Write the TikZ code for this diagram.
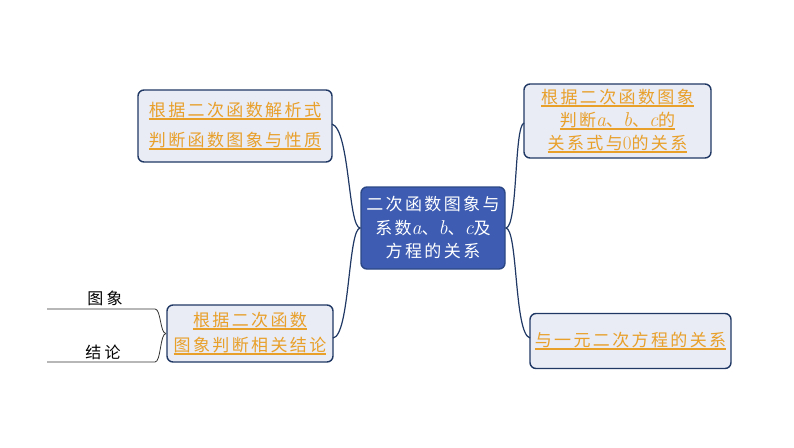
\documentclass[tikz,border=0pt]{standalone}
\usepackage{fontspec}
\newfontfamily\cjk[LetterSpace=14]{Noto Sans CJK SC}
\newfontfamily\cjkleaf[LetterSpace=20]{Noto Sans CJK SC}
\definecolor{boxfill}{HTML}{E9EBF5}
\definecolor{boxline}{HTML}{1F3864}
\definecolor{orangetxt}{HTML}{E8A02A}
\definecolor{centerfill}{HTML}{3E5DB2}
\definecolor{centerline}{HTML}{2C4785}
\newcommand\myul[1]{\setbox0\hbox{#1}\rlap{\rule[-3.5pt]{\wd0}{1.6pt}}\box0}
\newcommand\lat[1]{{\rmfamily\itshape\fontsize{20}{20}\selectfont #1}}
\newcommand\num[1]{{\rmfamily\upshape\fontsize{19}{19}\selectfont #1}}
\tikzset{
  topicbox/.style={draw=boxline, line width=1.4pt, fill=boxfill, rounded corners=6pt,
    align=center, inner sep=0pt, text=orangetxt},
  centerbox/.style={draw=centerline, line width=1.4pt, fill=centerfill, rounded corners=6pt,
    align=center, inner sep=0pt, text=white},
  conn/.style={draw=boxline, line width=1.2pt},
  leafline/.style={draw=black!80, line width=0.8pt},
  leaftxt/.style={inner sep=0pt, font=\cjkleaf\fontsize{16}{18}\selectfont},
}
\begin{document}
\begin{tikzpicture}[x=1pt,y=-1pt]
\useasboundingbox (0,0) rectangle (794,447);
\node[centerbox, minimum width=144pt, minimum height=82pt, font=\cjk\fontsize{17}{23.5}\selectfont] (c) at (433,228)
  {二次函数图象与\\系数\lat{a}、\lat{b}、\lat{c}及\\方程的关系};
\node[topicbox, minimum width=194pt, minimum height=72pt, font=\cjk\fontsize{17}{30}\selectfont] (lt) at (235,126)
  {\myul{根据二次函数解析式}\\\myul{判断函数图象与性质}};
\node[topicbox, minimum width=187pt, minimum height=74pt, font=\cjk\fontsize{17}{23}\selectfont] (rt) at (617.5,121)
  {\myul{根据二次函数图象}\\\myul{判断\lat{a}、\lat{b}、\lat{c}的}\\\myul{关系式与\num{0}的关系}};
\node[topicbox, minimum width=201pt, minimum height=55pt, font=\cjk\fontsize{17}{23}\selectfont] (rb) at (630.5,341)
  {\myul{与一元二次方程的关系}};
\node[topicbox, minimum width=166pt, minimum height=57pt, font=\cjk\fontsize{17}{25}\selectfont] (lb) at (250,333.5)
  {\myul{根据二次函数}\\\myul{图象判断相关结论}};
% connectors
\coordinate (ltend) at (332,124);
\coordinate (lbend) at (333,338);
\coordinate (rtend) at (524,123);
\coordinate (rbend) at (530,338);
\draw[conn] (c.west) .. controls (348,228) and (350,130) .. (ltend);
\draw[conn] (c.west) .. controls (348,228) and (350,336) .. (lbend);
\draw[conn] (c.east) .. controls (518,228) and (514,126) .. (rtend);
\draw[conn] (c.east) .. controls (518,228) and (514,334) .. (rbend);
% leaves
\coordinate (br) at (166,333.5);
\coordinate (l1) at (47,309);
\coordinate (l2) at (47,362);
\draw[leafline] (l1) -- (155,309) .. controls (161,309) and (160,333.5) .. (br);
\draw[leafline] (l2) -- (155,362) .. controls (161,362) and (160,333.5) .. (br);
\node[leaftxt] (t1) at (105,298) {图象};
\node[leaftxt] (t2) at (103,352) {结论};
\end{tikzpicture}
\end{document}
